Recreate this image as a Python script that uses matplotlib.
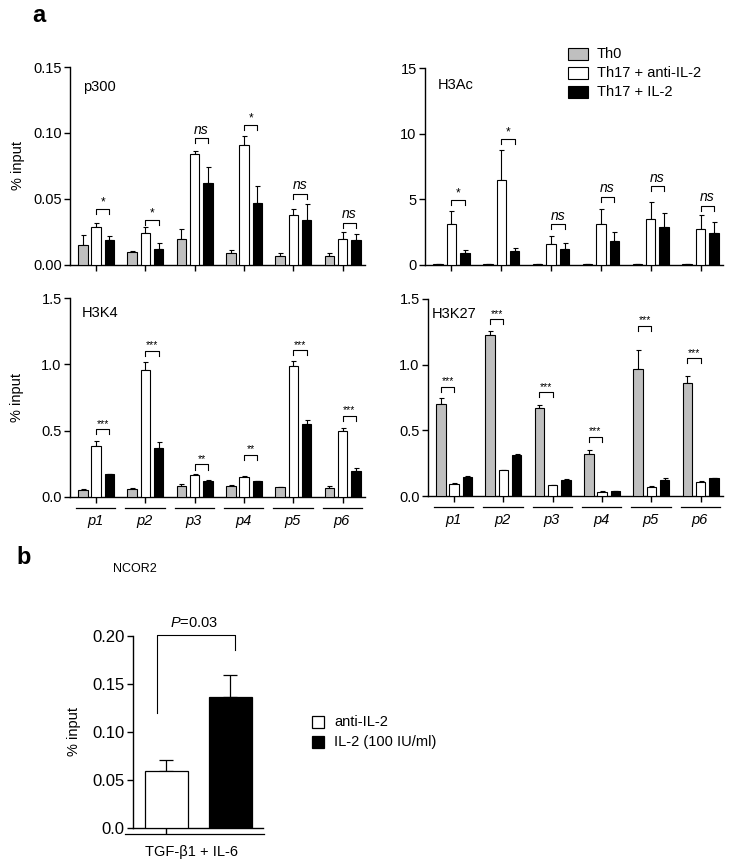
"""ChIP % input panels (a: p300/H3Ac/H3K4/H3K27 at promoter sites p1-p6; b: NCOR2)."""
import numpy as np
import matplotlib; matplotlib.use("Agg")
import matplotlib.pyplot as plt
from matplotlib.patches import Rectangle

plt.rcParams.update({"font.family": ["Liberation Sans", "DejaVu Sans"], "font.size": 10,
                     "axes.linewidth": 1.0, "xtick.major.width": 1.0, "ytick.major.width": 1.0,
                     "mathtext.fontset": "custom", "mathtext.rm": "Liberation Sans",
                     "mathtext.it": "Liberation Sans:italic"})

W, H = 730, 864
sites = ["p1", "p2", "p3", "p4", "p5", "p6"]
series = ["Th0", "Th17 + anti-IL-2", "Th17 + IL-2"]
colors = ["#bfbfbf", "white", "black"]

# --- panel a values (mean, upper SEM) ---
p300_th0 = [0.015, 0.0096, 0.020, 0.0094, 0.0069, 0.0069]
p300_th0_err = [0.008, 0.001, 0.007, 0.0016, 0.002, 0.002]
p300_anti = [0.029, 0.024, 0.084, 0.091, 0.038, 0.020]
p300_anti_err = [0.0025, 0.0045, 0.0027, 0.007, 0.0046, 0.005]
p300_il2 = [0.019, 0.0124, 0.062, 0.047, 0.034, 0.019]
p300_il2_err = [0.0032, 0.0041, 0.0122, 0.0126, 0.0119, 0.0046]
p300_sig = ["*", "*", "ns", "*", "ns", "ns"]
p300_brk = [0.0426, 0.0338, 0.096, 0.106, 0.054, 0.032]

h3ac_th0 = [0.05, 0.05, 0.05, 0.05, 0.08, 0.05]
h3ac_th0_err = [0, 0, 0, 0, 0, 0]
h3ac_anti = [3.10, 6.47, 1.62, 3.10, 3.48, 2.77]
h3ac_anti_err = [1.04, 2.26, 0.58, 1.14, 1.34, 1.06]
h3ac_il2 = [0.89, 1.07, 1.24, 1.83, 2.87, 2.44]
h3ac_il2_err = [0.23, 0.25, 0.44, 0.71, 1.06, 0.83]
h3ac_sig = ["*", "*", "ns", "ns", "ns", "ns"]
h3ac_brk = [4.95, 9.57, 3.12, 5.2, 6.0, 4.52]

h3k4_th0 = [0.053, 0.061, 0.086, 0.086, 0.073, 0.071]
h3k4_th0_err = [0.007, 0.005, 0.010, 0.007, 0.005, 0.012]
h3k4_anti = [0.384, 0.957, 0.164, 0.154, 0.987, 0.50]
h3k4_anti_err = [0.036, 0.061, 0.006, 0.006, 0.038, 0.02]
h3k4_il2 = [0.172, 0.371, 0.119, 0.119, 0.548, 0.194]
h3k4_il2_err = [0.005, 0.043, 0.007, 0.003, 0.03, 0.026]
h3k4_sig = ["***", "***", "**", "**", "***", "***"]
h3k4_brk = [0.51, 1.10, 0.245, 0.318, 1.106, 0.61]

h3k27_th0 = [0.699, 1.229, 0.671, 0.322, 0.967, 0.858]
h3k27_th0_err = [0.046, 0.028, 0.021, 0.025, 0.147, 0.056]
h3k27_anti = [0.094, 0.195, 0.084, 0.033, 0.071, 0.109]
h3k27_anti_err = [0.005, 0.005, 0.003, 0.003, 0.005, 0.004]
h3k27_il2 = [0.144, 0.314, 0.119, 0.038, 0.122, 0.137]
h3k27_il2_err = [0.008, 0.008, 0.01, 0.003, 0.018, 0.003]
h3k27_sig = ["***"] * 6
h3k27_brk = [0.832, 1.345, 0.789, 0.452, 1.297, 1.048]

# --- panel b ---
b_conds = ["anti-IL-2", "IL-2 (100 IU/ml)"]
b_vals = [0.0595, 0.136]
b_err = [0.011, 0.023]
b_colors = ["white", "black"]


def add_ax(fig, l, t, r, b):
    return fig.add_axes([l / W, 1 - b / H, (r - l) / W, (b - t) / H])


def style(ax, size=10.5):
    for s in ("top", "right"):
        ax.spines[s].set_visible(False)
    ax.tick_params(direction="out", length=4, labelsize=size, pad=2)


def chip_panel(ax, name, name_xy, vals, errs, ymax, yticks, ylabels, sig, brk, pair, show_sites):
    x = np.arange(len(sites))
    offs = [-0.27, 0.0, 0.27]
    for k in range(3):
        ax.bar(x + offs[k], vals[k], 0.19, color=colors[k], edgecolor="black", lw=0.8, zorder=3)
        ax.errorbar(x + offs[k], vals[k], yerr=[np.zeros(6), errs[k]], fmt="none",
                    ecolor="black", elinewidth=0.8, capsize=1.8, capthick=0.8, zorder=2)
    leg = 5 / 198 * ymax
    for i in range(len(sites)):
        x0, x1 = x[i] + offs[pair[0]], x[i] + offs[pair[1]]
        ax.plot([x0, x0, x1, x1], [brk[i] - leg, brk[i], brk[i], brk[i] - leg],
                color="black", lw=0.8, zorder=4)
        if sig[i] == "ns":
            ax.text((x0 + x1) / 2, brk[i] + 1.5 / 198 * ymax, "ns", style="italic",
                    fontsize=10, ha="center", va="bottom")
        else:
            ax.text((x0 + x1) / 2, brk[i] + 0.5 / 198 * ymax, sig[i],
                    fontsize=8.5 if len(sig[i]) == 1 else 7.5, ha="center", va="bottom")
    ax.set_xlim(-0.53, 5.45)
    ax.set_ylim(0, ymax)
    ax.set_yticks(yticks)
    ax.set_yticklabels(ylabels)
    ax.set_xticks(x)
    ax.set_xticklabels([])
    ax.text(name_xy[0], name_xy[1], name, transform=ax.transAxes, fontsize=10.5,
            ha="left", va="center")
    if show_sites:
        for i in range(len(sites)):
            ax.plot([x[i] - 0.41, x[i] + 0.39], [-0.055, -0.055], color="black", lw=0.9,
                    transform=ax.get_xaxis_transform(), clip_on=False)
            ax.text(x[i] - 0.02, -0.12, sites[i], style="italic", fontsize=10.5,
                    ha="center", va="center", transform=ax.get_xaxis_transform())
    style(ax)


fig = plt.figure(figsize=(W / 100, H / 100), dpi=100)

ax1 = add_ax(fig, 70, 67, 365, 265)
chip_panel(ax1, "p300", (0.044, 0.90), [p300_th0, p300_anti, p300_il2],
           [p300_th0_err, p300_anti_err, p300_il2_err],
           0.15, [0, 0.05, 0.10, 0.15], ["0.00", "0.05", "0.10", "0.15"], p300_sig, p300_brk, (1, 2), False)
ax1.set_ylabel("% input", fontsize=10.5, labelpad=6)

ax2 = add_ax(fig, 425, 68, 723, 265)
chip_panel(ax2, "H3Ac", (0.044, 0.914), [h3ac_th0, h3ac_anti, h3ac_il2],
           [h3ac_th0_err, h3ac_anti_err, h3ac_il2_err],
           15, [0, 5, 10, 15], ["0", "5", "10", "15"], h3ac_sig, h3ac_brk, (1, 2), False)

ax3 = add_ax(fig, 70, 298, 365, 497)
chip_panel(ax3, "H3K4", (0.04, 0.925), [h3k4_th0, h3k4_anti, h3k4_il2],
           [h3k4_th0_err, h3k4_anti_err, h3k4_il2_err],
           1.5, [0, 0.5, 1.0, 1.5], ["0.0", "0.5", "1.0", "1.5"], h3k4_sig, h3k4_brk, (1, 2), True)
ax3.set_ylabel("% input", fontsize=10.5, labelpad=12)

ax4 = add_ax(fig, 428, 299, 723, 496)
chip_panel(ax4, "H3K27", (0.014, 0.925), [h3k27_th0, h3k27_anti, h3k27_il2],
           [h3k27_th0_err, h3k27_anti_err, h3k27_il2_err],
           1.5, [0, 0.5, 1.0, 1.5], ["0.0", "0.5", "1.0", "1.5"], h3k27_sig, h3k27_brk, (0, 1), True)

# legend for panel a
for k, lab in enumerate(series):
    yc = [54, 73, 92][k]
    fig.patches.append(Rectangle((568 / W, 1 - (yc + 6) / H), 20 / W, 12 / H, transform=fig.transFigure,
                                 facecolor=colors[k], edgecolor="black", lw=0.8))
    fig.text(597 / W, 1 - yc / H, lab, fontsize=10.5, va="center")

fig.text(39 / W, 1 - 15 / H, "a", fontsize=17, fontweight="bold", ha="center", va="center")

# --- panel b ---
axb = add_ax(fig, 133, 636, 263, 828)
xb = np.array([0, 1])
axb.bar(xb, b_vals, 0.67, color=b_colors, edgecolor="black", lw=0.9, zorder=3)
axb.errorbar(xb, b_vals, yerr=[np.zeros(2), b_err], fmt="none", ecolor="black",
             elinewidth=0.9, capsize=5, capthick=0.9, zorder=2)
axb.plot([-0.15, -0.15, 1.08, 1.08], [0.12, 0.201, 0.201, 0.185], color="black", lw=0.8, clip_on=False)
axb.text(0.44, 0.206, "$\\it{P}$=0.03", fontsize=10.5, ha="center", va="bottom")
axb.set_xlim(-0.52, 1.51)
axb.set_ylim(0, 0.2)
axb.set_yticks([0, 0.05, 0.10, 0.15, 0.20])
axb.set_yticklabels(["0.0", "0.05", "0.10", "0.15", "0.20"])
axb.set_xticks([0])
axb.set_xticklabels([])
style(axb, 12)
axb.set_ylabel("% input", fontsize=10.5, labelpad=8)
axb.plot([-0.65, 1.53], [-0.03, -0.03], color="black", lw=0.9,
         transform=axb.get_xaxis_transform(), clip_on=False)
axb.text(0.4, -0.125, "TGF-β1 + IL-6", fontsize=10.5, ha="center", va="center",
         transform=axb.get_xaxis_transform())

for k, lab in enumerate(b_conds):
    yc = [722, 742][k]
    fig.patches.append(Rectangle((312 / W, 1 - (yc + 6) / H), 12 / W, 12 / H, transform=fig.transFigure,
                                 facecolor=b_colors[k], edgecolor="black", lw=0.9))
    fig.text(334 / W, 1 - yc / H, lab, fontsize=10.5, va="center")

fig.text(24 / W, 1 - 557 / H, "b", fontsize=17, fontweight="bold", ha="center", va="center")
fig.text(113 / W, 1 - 569 / H, "NCOR2", fontsize=9, va="center")

fig.savefig("out.png", dpi=100)
